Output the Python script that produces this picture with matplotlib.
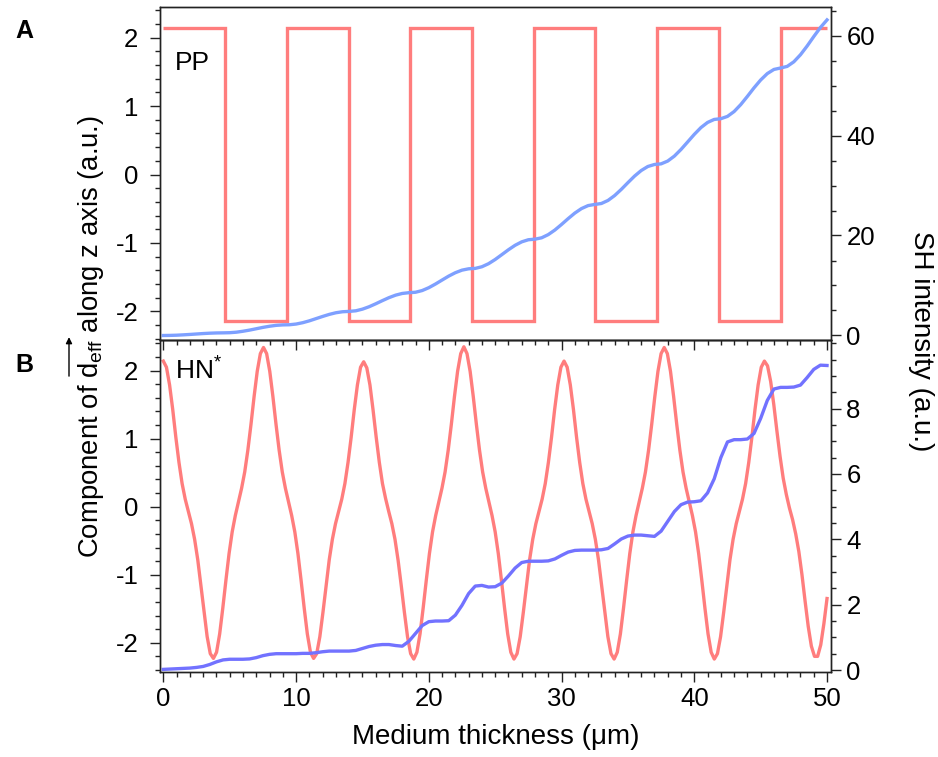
import numpy as np
import matplotlib
matplotlib.use('Agg')
import matplotlib.pyplot as plt
from matplotlib.ticker import MultipleLocator, FixedLocator
from matplotlib.patches import FancyArrowPatch

plt.rcParams['font.family'] = ['Liberation Sans', 'DejaVu Sans']
plt.rcParams['mathtext.fontset'] = 'custom'
plt.rcParams['mathtext.rm'] = 'Liberation Sans'
plt.rcParams['mathtext.it'] = 'Liberation Sans:italic'
plt.rcParams['mathtext.bf'] = 'Liberation Sans:bold'

# ---------------- data ----------------
# Panel A (PP): domain boundaries (um) and d_eff component per domain
pp_edges = [0, 4.68, 9.33, 13.98, 18.62, 23.26, 27.9, 32.54, 37.18, 41.84, 46.5, 50.0]
pp_deff = [2.14, -2.14, 2.14, -2.14, 2.14, -2.14, 2.14, -2.14, 2.14, -2.14, 2.14]

# Panel A SH intensity, sampled every 0.5 um from 0 to 50
pp_x = np.linspace(0, 50, 101)
pp_sh = [0.00, 0.02, 0.06, 0.13, 0.21, 0.30, 0.39, 0.46, 0.51, 0.53,
         0.56, 0.66, 0.85, 1.08, 1.35, 1.62, 1.85, 2.03, 2.12, 2.15,
         2.29, 2.56, 2.93, 3.37, 3.81, 4.22, 4.55, 4.75, 4.82, 4.94,
         5.27, 5.75, 6.34, 6.97, 7.57, 8.07, 8.41, 8.56, 8.65, 8.99,
         9.56, 10.29, 11.09, 11.88, 12.56, 13.07, 13.34, 13.42, 13.75, 14.36,
         15.20, 16.17, 17.15, 18.04, 18.73, 19.15, 19.27, 19.54, 20.18, 21.10,
         22.21, 23.38, 24.48, 25.38, 25.98, 26.21, 26.40, 27.01, 27.99, 29.22,
         30.57, 31.88, 32.99, 33.80, 34.20, 34.33, 34.89, 35.88, 37.21, 38.71,
         40.22, 41.58, 42.61, 43.21, 43.36, 43.82, 44.79, 46.18, 47.82, 49.53,
         51.10, 52.38, 53.21, 53.50, 53.82, 54.74, 56.15, 57.89, 59.78, 61.59,
         63.12]

# Panel B (HN*): d_eff component, sampled on 213 points from 0 to 50 um
hn_x = np.linspace(0, 50, 213)
hn_deff = [2.14, 2.05, 1.79, 1.43, 1.02, 0.65, 0.34, 0.11, -0.07, -0.25, -0.48, -0.78, -1.16, -1.55, -1.91, -2.16,
           -2.23, -2.14, -1.87, -1.49, -1.08, -0.69, -0.37, -0.13, 0.07, 0.27, 0.51, 0.83, 1.21, 1.62, 1.99, 2.25,
           2.34, 2.25, 1.99, 1.62, 1.21, 0.83, 0.51, 0.27, 0.07, -0.13, -0.37, -0.69, -1.08, -1.49, -1.87, -2.14,
           -2.23, -2.16, -1.91, -1.55, -1.16, -0.78, -0.48, -0.25, -0.07, 0.11, 0.34, 0.65, 1.02, 1.43, 1.79, 2.05,
           2.13, 2.04, 1.79, 1.42, 1.02, 0.65, 0.34, 0.12, -0.07, -0.25, -0.48, -0.79, -1.16, -1.55, -1.91, -2.16,
           -2.24, -2.14, -1.87, -1.49, -1.08, -0.69, -0.37, -0.13, 0.07, 0.27, 0.51, 0.83, 1.21, 1.62, 1.99, 2.25,
           2.35, 2.25, 1.99, 1.62, 1.21, 0.83, 0.51, 0.27, 0.07, -0.13, -0.37, -0.69, -1.08, -1.49, -1.87, -2.14,
           -2.24, -2.16, -1.91, -1.55, -1.16, -0.78, -0.48, -0.25, -0.07, 0.11, 0.34, 0.65, 1.02, 1.43, 1.79, 2.05,
           2.14, 2.05, 1.79, 1.43, 1.02, 0.65, 0.34, 0.11, -0.07, -0.25, -0.48, -0.78, -1.16, -1.55, -1.91, -2.16,
           -2.24, -2.14, -1.87, -1.49, -1.08, -0.69, -0.37, -0.13, 0.07, 0.27, 0.51, 0.83, 1.21, 1.62, 1.99, 2.25,
           2.34, 2.25, 1.99, 1.62, 1.21, 0.83, 0.51, 0.27, 0.07, -0.13, -0.37, -0.69, -1.08, -1.49, -1.87, -2.14,
           -2.24, -2.16, -1.91, -1.55, -1.16, -0.78, -0.48, -0.25, -0.07, 0.11, 0.34, 0.65, 1.02, 1.43, 1.79, 2.05,
           2.14, 2.07, 1.84, 1.50, 1.11, 0.74, 0.42, 0.18, -0.02, -0.19, -0.40, -0.66, -1.00, -1.39, -1.76, -2.05,
           -2.20, -2.20, -2.03, -1.72, -1.35]

# Panel B SH intensity, sampled every 0.5 um from 0 to 50
hn_sx = np.linspace(0, 50, 101)
hn_sh = [0.02, 0.03, 0.04, 0.05, 0.06, 0.08, 0.11, 0.17, 0.25, 0.31,
         0.33, 0.33, 0.33, 0.34, 0.38, 0.44, 0.48, 0.50, 0.50, 0.50,
         0.50, 0.51, 0.51, 0.53, 0.56, 0.58, 0.58, 0.58, 0.58, 0.60,
         0.66, 0.72, 0.76, 0.78, 0.78, 0.75, 0.73, 0.88, 1.12, 1.36,
         1.48, 1.50, 1.50, 1.51, 1.68, 1.98, 2.34, 2.57, 2.59, 2.54,
         2.55, 2.66, 2.88, 3.12, 3.29, 3.33, 3.33, 3.33, 3.34, 3.40,
         3.51, 3.61, 3.66, 3.67, 3.67, 3.67, 3.68, 3.72, 3.86, 4.01,
         4.10, 4.13, 4.13, 4.11, 4.09, 4.25, 4.55, 4.85, 5.06, 5.14,
         5.15, 5.18, 5.42, 5.85, 6.50, 6.98, 7.05, 7.05, 7.07, 7.24,
         7.70, 8.25, 8.60, 8.65, 8.65, 8.66, 8.72, 8.95, 9.20, 9.33,
         9.32]

# ---------------- styling ----------------
RED = '#ff7d7d'
BLUE_A = '#7ea0ff'
BLUE_B = '#7272ff'
TICK_FS = 18.5
YLAB_FS = 19.8
LAB_FS = 20
LW = 2.4

FW, FH = 938, 757
fig = plt.figure(figsize=(FW / 100, FH / 100), dpi=100)
L, W = 160 / FW, 671 / FW
ax1 = fig.add_axes([L, 1 - 340 / FH, W, 333 / FH])
ax2 = fig.add_axes([L, 1 - 672 / FH, W, 332 / FH])
ax2.patch.set_visible(False)
ax1r = ax1.twinx()
ax2r = ax2.twinx()

ax1.stairs(pp_deff, pp_edges, baseline=None, color=RED, lw=LW)
ax1r.plot(pp_x, pp_sh, color=BLUE_A, lw=LW)
ax2.plot(hn_x, hn_deff, color=RED, lw=LW)
ax2r.plot(hn_sx, hn_sh, color=BLUE_B, lw=LW)

for ax in (ax1, ax2, ax1r, ax2r):
    ax.set_xlim(-0.25, 50.3)
    for sp in ax.spines.values():
        sp.set_linewidth(1.0)
        sp.set_color('#222222')

ax1.set_ylim(-2.42, 2.45)
ax2.set_ylim(-2.43, 2.45)
ax1r.set_ylim(-0.9, 65.7)
ax2r.set_ylim(-0.06, 10.1)

for ax in (ax1, ax2):
    ax.yaxis.set_major_locator(FixedLocator([-2, -1, 0, 1, 2]))
    ax.yaxis.set_minor_locator(MultipleLocator(0.2))
    ax.set_yticklabels(['-2', '-1', '0', '1', '2'])
    ax.xaxis.set_major_locator(MultipleLocator(10))
    ax.xaxis.set_minor_locator(MultipleLocator(1))
    ax.tick_params(axis='y', which='both', direction='out', left=True, right=False,
                   labelsize=TICK_FS, pad=8, width=1.0, color='#222222')
    ax.tick_params(axis='x', which='both', direction='out', top=False, bottom=True,
                   labelsize=TICK_FS, pad=3.5, width=1.0, color='#222222')
    ax.tick_params(which='major', length=7.5)
    ax.tick_params(which='minor', length=3.8)

ax1.tick_params(axis='x', labelbottom=False)

ax1r.yaxis.set_major_locator(FixedLocator([0, 20, 40, 60]))
ax1r.yaxis.set_minor_locator(MultipleLocator(5))
ax2r.yaxis.set_major_locator(FixedLocator([0, 2, 4, 6, 8]))
ax2r.yaxis.set_minor_locator(MultipleLocator(0.5))
for ax in (ax1r, ax2r):
    ax.tick_params(axis='y', which='both', direction='out', labelsize=TICK_FS, pad=3.5,
                   width=1.0, color='#222222')
    ax.tick_params(which='major', length=7.5)
    ax.tick_params(which='minor', length=3.8)
    ax.tick_params(axis='x', which='both', bottom=False, top=False)

# panel texts
fig.text(175 / FW, 1 - 70 / FH, 'PP', fontsize=19, va='baseline', ha='left')
fig.text(175 / FW, 1 - 380 / FH, r'HN$^{*}$', fontsize=19, va='baseline', ha='left')
fig.text(15 / FW, 1 - 38 / FH, 'A', fontsize=18, fontweight='bold', va='baseline', ha='left')
fig.text(15 / FW, 1 - 372 / FH, 'B', fontsize=18, fontweight='bold', va='baseline', ha='left')

# left y label with a long vector arrow over d_eff
ylab_full = r'Component of $\mathrm{d}_{\mathrm{eff}}$ along z axis (a.u.)'
ylab_upto = r'Component of $\mathrm{d}_{\mathrm{eff}}$'
ylab_sym = r'$\mathrm{d}_{\mathrm{eff}}$'
yc_px = FH - 336
base_x_px = 98
fig.text(base_x_px / FW, yc_px / FH, ylab_full, rotation=90, rotation_mode='anchor',
         ha='center', va='baseline', fontsize=YLAB_FS)

renderer = fig.canvas.get_renderer()
def _w(s):
    t = fig.text(0, 0, s, fontsize=YLAB_FS)
    w = t.get_window_extent(renderer).width
    t.remove()
    return w
w_full, w_upto, w_sym = _w(ylab_full), _w(ylab_upto), _w(ylab_sym)
y0 = yc_px - w_full / 2
a_start = y0 + w_upto - w_sym + 1
a_end = y0 + w_upto + 1
arrow_x = 69.0
arr = FancyArrowPatch((arrow_x / FW, a_start / FH), (arrow_x / FW, a_end / FH),
                      transform=fig.transFigure, arrowstyle='-|>', mutation_scale=9,
                      lw=1.0, color='black', shrinkA=0, shrinkB=0)
fig.add_artist(arr)

fig.text(921 / FW, 1 - 341 / FH, 'SH intensity (a.u.)', rotation=270,
         ha='center', va='center', fontsize=LAB_FS)
fig.text(L + W / 2, 1 - 737 / FH, 'Medium thickness (\u03bcm)', ha='center', va='center',
         fontsize=20)

fig.savefig('out.png', dpi=100)
